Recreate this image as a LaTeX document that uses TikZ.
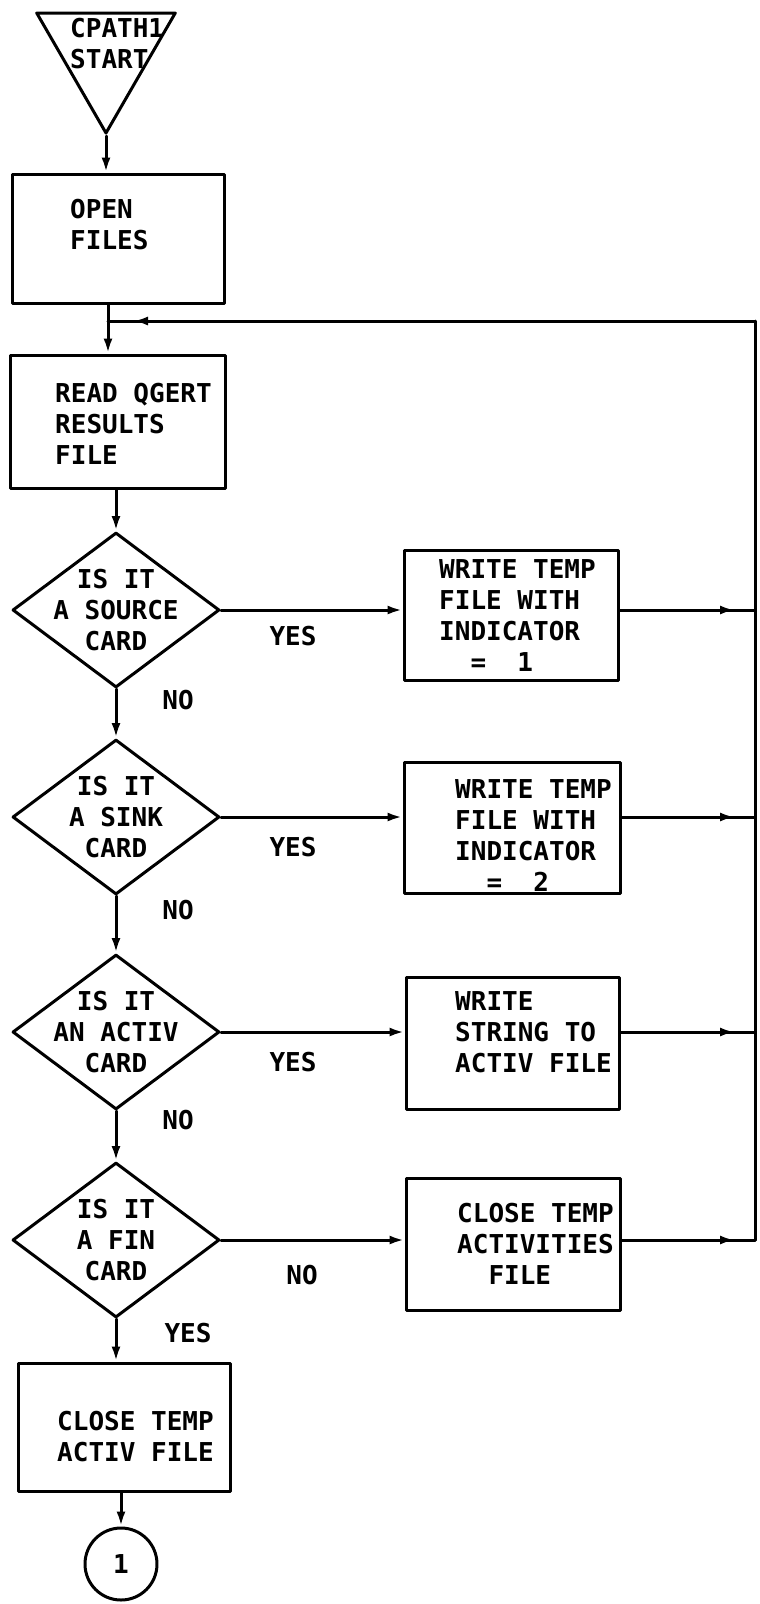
\documentclass[tikz,border=0pt]{standalone}
\usepackage{fontspec}
\newfontfamily\plotter{DejaVu Sans Mono}
\usetikzlibrary{shapes.geometric,arrows.meta,decorations.markings}
\tikzset{
  every node/.style={font=\plotter\bfseries\fontsize{26pt}{31pt}\selectfont},
  pen/.style={line width=3pt, line cap=round, line join=round},
  proc/.style={pen, draw, rectangle, inner sep=0pt},
  ask/.style={pen, draw, diamond, inner sep=0pt, minimum width=207pt, minimum height=155pt},
  txt/.style={anchor=north west, inner sep=0pt, align=left},
  qtxt/.style={inner sep=0pt, align=center},
  flow/.style={pen, -{Latex[length=15pt,width=9pt]}},
  tipat/.style={pen, postaction={decorate},
    decoration={markings, mark=at position #1 with {\arrow{Latex[length=15pt,width=9pt]}}}}
}
\begin{document}
\begin{tikzpicture}[x=1pt,y=-1pt]
  \useasboundingbox (0,0) rectangle (760,1604);
  % main column
  \node[pen, draw, regular polygon, regular polygon sides=3, regular polygon rotate=180,
        minimum size=160pt, inner sep=0pt] (start) at (106,53) {};
  \node[txt] (startT) at (70,18) {CPATH1\\START};
  \node[proc, minimum width=212pt, minimum height=129pt] (open) at (118,238.5) {};
  \node[txt] (openT) at (70,199) {OPEN\\FILES};
  \node[proc, minimum width=215pt, minimum height=133pt] (read) at (117.5,421.5) {};
  \node[txt] (readT) at (55,383) {READ QGERT\\RESULTS\\FILE};
  \node[ask] (d1) at (116,610) {};  \node[qtxt] (d1T) at (116,610) {IS IT\\A SOURCE\\CARD};
  \node[ask] (d2) at (116,817) {};  \node[qtxt] (d2T) at (116,817) {IS IT\\A SINK\\CARD};
  \node[ask] (d3) at (116,1032) {}; \node[qtxt] (d3T) at (116,1032) {IS IT\\AN ACTIV\\CARD};
  \node[ask] (d4) at (116,1240) {}; \node[qtxt] (d4T) at (116,1240) {IS IT\\A FIN\\CARD};
  \node[proc, minimum width=212pt, minimum height=128pt] (c2) at (124,1427) {};
  \node[txt] (c2T) at (57,1411) {CLOSE TEMP\\ACTIV FILE};
  \node[pen, draw, circle, minimum size=72pt, inner sep=0pt] (one) at (121,1564) {1};
  % right column
  \node[proc, minimum width=214pt, minimum height=130pt] (w1) at (511,615) {};
  \node[txt] (w1T) at (439,559) {WRITE TEMP\\FILE WITH\\INDICATOR\\\phantom{XX}=\phantom{XX}1};
  \node[proc, minimum width=216pt, minimum height=131pt] (w2) at (512,827.5) {};
  \node[txt] (w2T) at (455,779) {WRITE TEMP\\FILE WITH\\INDICATOR\\\phantom{XX}=\phantom{XX}2};
  \node[proc, minimum width=213pt, minimum height=132pt] (w3) at (512.5,1043) {};
  \node[txt] (w3T) at (455,991) {WRITE\\STRING TO\\ACTIV FILE};
  \node[proc, minimum width=214pt, minimum height=132pt] (c1) at (513,1244) {};
  \node[txt] (c1T) at (457,1203) {CLOSE TEMP\\ACTIVITIES\\\phantom{XX}FILE};
  % branch labels
  \node (yes1) at (293,636) {YES};  \node (no1) at (178,700) {NO};
  \node (yes2) at (293,847) {YES};  \node (no2) at (178,910) {NO};
  \node (yes3) at (293,1062) {YES}; \node (no3) at (178,1120) {NO};
  \node (no4) at (302,1275) {NO};   \node (yes4) at (188,1333) {YES};
  \coordinate (jl) at (108,321);
  \coordinate (rail) at (755,321);
  % connectors
  \draw[flow] (start.corner 1) -- (start.corner 1 |- open.north);
  \draw[pen] (open.south -| jl) -- (jl);
  \draw[flow] (jl) -- (read.north -| jl);
  \draw[flow] (read.south -| d1.north) -- (d1.north);
  \draw[flow] (d1.south) -- (d2.north);
  \draw[flow] (d2.south) -- (d3.north);
  \draw[flow] (d3.south) -- (d4.north);
  \draw[flow] (d4.south) -- (d4.south |- c2.north);
  \draw[flow] (c2.south -| one.north) -- (one.north);
  \draw[flow] (d1.east) -- (d1.east -| w1.west);
  \draw[flow] (d2.east) -- (d2.east -| w2.west);
  \draw[flow] (d3.east) -- (d3.east -| w3.west);
  \draw[flow] (d4.east) -- (d4.east -| c1.west);
  \draw[tipat=-20pt] (d1.east -| w1.east) -- (d1.east -| rail);
  \draw[tipat=-20pt] (d2.east -| w2.east) -- (d2.east -| rail);
  \draw[tipat=-20pt] (d3.east -| w3.east) -- (d3.east -| rail);
  \draw[tipat=-20pt] (d4.east -| c1.east) -- (d4.east -| rail);
  \draw[pen] (d4.east -| rail) -- (rail);
  \draw[tipat=-25pt] (rail) -- (jl);
\end{tikzpicture}
\end{document}
